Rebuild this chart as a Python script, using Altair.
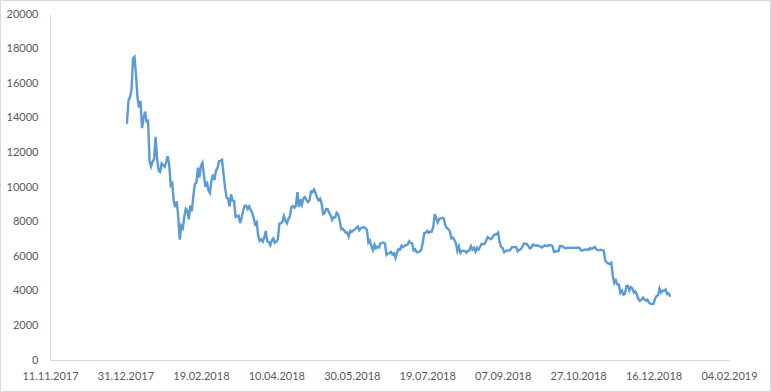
import altair as alt
import pandas as pd

# Daily closing prices, 01.01.2018 - 27.12.2018
jan = [13657, 14982, 15201, 15599, 17429, 17527, 16477, 15170, 14595, 14973,
       13405, 13980, 14360, 13772, 13819, 11490, 11188, 11474, 11607, 12899,
       11600, 10931, 10868, 11359, 11259, 11171, 11440, 11786, 11296, 10106, 10221]
feb = [9170, 8830, 9174, 8277, 6955, 7754, 7621, 8265, 8736, 8621,
       8129, 8926, 8598, 9494, 10166, 10233, 11112, 10551, 11225, 11403,
       10690, 10005, 10301, 9813, 9664, 10366, 10725, 10397]
mar = [10951, 11086, 11489, 11512, 11573, 10779, 9966, 9395, 9337, 8866,
       9578, 9205, 9194, 8269, 8300, 8338, 7916, 8223, 8630, 8913,
       8929, 8728, 8879, 8668, 8495, 8209, 7833, 7954, 7165, 6891, 6973]
apr = [6844, 7083, 7457, 6853, 6811, 6636, 6911, 7023, 6770, 6834,
       6968, 7889, 7895, 7986, 8329, 8058, 7902, 8163, 8294, 8845,
       8895, 8802, 8930, 9697, 8845, 9281, 8987, 9348, 9419, 9240]
may = [9119, 9235, 9743, 9700, 9858, 9654, 9373, 9234, 9325, 9043,
       8441, 8504, 8723, 8716, 8510, 8368, 8095, 8250, 8247, 8513,
       8419, 8041, 7557, 7587, 7480, 7355, 7368, 7135, 7472, 7406, 7494]
jun = [7541, 7643, 7720, 7514, 7633, 7653, 7678, 7624, 7531, 6786,
       6906, 6582, 6349, 6675, 6457, 6550, 6499, 6734, 6769, 6776,
       6729, 6083, 6162, 6173, 6250, 6093, 6157, 5903, 6218, 6404]
jul = [6385, 6614, 6529, 6597, 6639, 6673, 6857, 6773, 6741, 6329,
       6394, 6228, 6238, 6276, 6359, 6741, 7321, 7370, 7466, 7354,
       7419, 7418, 7711, 8424, 8181, 7951, 8165, 8192, 8218, 8180, 7780]
aug = [7625, 7567, 7434, 7032, 7068, 6951, 6753, 6305, 6569, 6184,
       6295, 6322, 6297, 6199, 6308, 6334, 6581, 6387, 6490, 6268,
       6488, 6377, 6534, 6711, 6704, 6707, 6884, 7097, 7048, 6978, 7038]
sep = [7193, 7273, 7262, 7361, 6795, 6529, 6467, 6225, 6300, 6329,
       6321, 6351, 6518, 6512, 6543, 6517, 6281, 6371, 6398, 6519,
       6734, 6721, 6710, 6595, 6446, 6496, 6676, 6644, 6601, 6625]
oct_ = [6589, 6556, 6502, 6576, 6622, 6588, 6602, 6652, 6642, 6585,
        6256, 6274, 6285, 6290, 6596, 6596, 6544, 6476, 6465, 6489,
        6482, 6487, 6476, 6484, 6480, 6486, 6489, 6484, 6333, 6330, 6371]
nov = [6377, 6388, 6361, 6475, 6424, 6461, 6531, 6414, 6339, 6351,
       6375, 6331, 6313, 5738, 5649, 5576, 5554, 5623, 4871, 4451,
       4603, 4365, 4347, 3880, 4009, 3779, 3820, 4257, 4278, 4017]
dec = [4214, 4139, 3894, 3956, 3753, 3521, 3419, 3476, 3614, 3502,
       3424, 3486, 3313, 3242, 3236, 3252, 3545, 3696, 3745, 4134,
       3896, 4014, 3998, 4078, 3815, 3857, 3654]

values = jan + feb + mar + apr + may + jun + jul + aug + sep + oct_ + nov + dec
dates = pd.date_range("2018-01-01", periods=len(values), freq="D")
df = pd.DataFrame({"date": dates, "price": values})

x_ticks = ["2017-11-11", "2017-12-31", "2018-02-19", "2018-04-10", "2018-05-30",
           "2018-07-19", "2018-09-07", "2018-10-27", "2018-12-16", "2019-02-04"]
y_ticks = [0, 2000, 4000, 6000, 8000, 10000, 12000, 14000, 16000, 18000, 20000]


def dt(s):
    y, m, d = (int(p) for p in s.split("-"))
    return alt.DateTime(year=y, month=m, date=d)


tick_dt = [dt(s) for s in x_ticks]
FONT = "Lato"
LABEL = "#595959"
AXIS = "#D9D9D9"

line = alt.Chart(df).mark_line(color="#5B9BD5", strokeWidth=2.4).encode(
    x=alt.X("date:T",
            scale=alt.Scale(domain=[tick_dt[0], tick_dt[-1]], nice=False),
            axis=alt.Axis(values=tick_dt, format="%d.%m.%Y", title=None, grid=False,
                          ticks=False, labelAngle=0, domainColor=AXIS, domainWidth=1,
                          labelColor=LABEL, labelFont=FONT, labelFontSize=11,
                          labelPadding=10, labelFlush=False, labelOverlap=False)),
    y=alt.Y("price:Q",
            scale=alt.Scale(domain=[0, 20000], nice=False),
            axis=alt.Axis(values=y_ticks, format="d", title=None, grid=False,
                          ticks=False, domainColor=AXIS, domainWidth=1,
                          labelColor=LABEL, labelFont=FONT, labelFontSize=11,
                          labelPadding=12)),
)

border = alt.Chart(pd.DataFrame({"a": [0]})).mark_rect(
    fillOpacity=0, stroke=AXIS, strokeWidth=1
).encode(x=alt.value(-49.5), x2=alt.value(720.5), y=alt.value(-13.5), y2=alt.value(377.5))

chart = alt.layer(line, border).properties(
    width=679, height=346, padding=0, background="white"
).configure_view(stroke=None)

chart.save("out.html", embed_options={"renderer": "svg", "actions": False})
